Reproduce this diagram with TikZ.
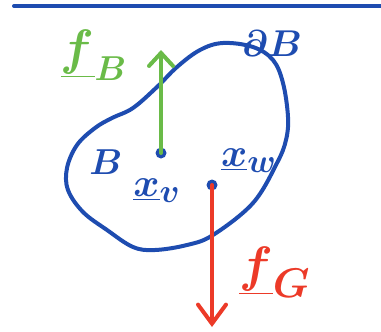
\documentclass[tikz,border=0pt]{standalone}
\usetikzlibrary{arrows.meta}
\definecolor{penblue}{RGB}{30,76,176}
\definecolor{pengreen}{RGB}{106,187,72}
\definecolor{penred}{RGB}{236,58,40}
\newcommand{\biglbl}[2]{\scalebox{#1}{\Huge\boldmath$#2$}}
\begin{document}
\begin{tikzpicture}[x=1pt,y=-1pt,
  ink/.style={line width=4pt,line cap=round,line join=round},
  lbl/.style={inner sep=0pt},
  dotnode/.style={circle,fill=penblue,inner sep=0pt,minimum size=11pt}]
\useasboundingbox (0,0) rectangle (381,332);
\coordinate (ruleL) at (14,6);
\coordinate (ruleR) at (381,6);
\draw[ink,penblue] (ruleL) -- (ruleR);
% body boundary
\draw[ink,penblue] plot[smooth cycle,tension=0.6] coordinates {
 (223,43) (253,47) (273,60) (283,83) (288,117) (286,140) (277,163)
 (253,203) (213,235) (187,245) (155,250) (133,247) (107,230)
 (83,212) (68,190) (67,168) (77,145) (95,128) (112,118) (133,108)
 (157,87) (177,67) (200,50)};
% points
\node[dotnode] (xv) at (161,153) {};
\node[dotnode] (xw) at (212,185) {};
\coordinate (gtip) at (161,50);
\coordinate (rtip) at (212,327);
\draw[ink,pengreen,-{Straight Barb[length=13pt,width=24pt,line cap=round]}] (xv.center) -- (gtip);
\draw[ink,penred,-{Straight Barb[length=19pt,width=28pt,line cap=round]}] (xw.center) -- (rtip);
% labels
\node[lbl,text=pengreen] (fB) at (94,55) {\biglbl{2.0}{\underline{f}_{\scriptscriptstyle B}}};
\node[lbl,text=penred] (fG) at (275,272) {\biglbl{2.0}{\underline{f}_{G}}};
\node[lbl,text=penblue] (dB) at (272,44) {\biglbl{1.5}{\partial B}};
\node[lbl,text=penblue] (B) at (106,162) {\biglbl{1.45}{B}};
\node[lbl,text=penblue] (lxv) at (157,191) {\biglbl{1.6}{\underline{x}_{v}}};
\node[lbl,text=penblue] (lxw) at (249,161) {\biglbl{1.6}{\underline{x}_{w}}};
\end{tikzpicture}
\end{document}
